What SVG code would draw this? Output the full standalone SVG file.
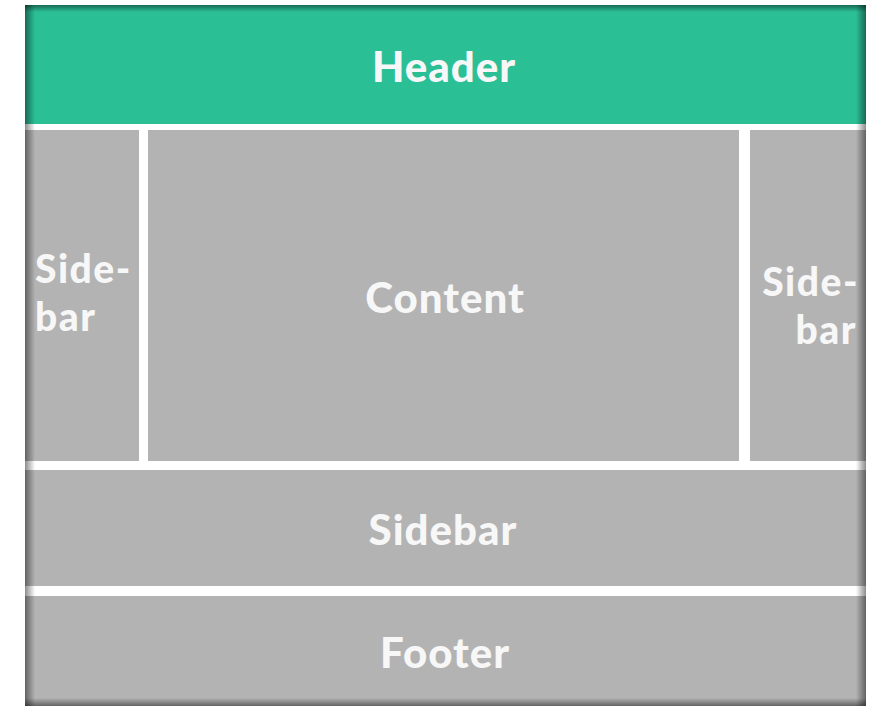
<svg xmlns="http://www.w3.org/2000/svg" width="879" height="708" viewBox="0 0 879 708">
<defs>
<style>
.box{fill:#b3b3b3}
.hdr{fill:#2bbf96}
.lbl{font-family:Lato,"Liberation Sans",sans-serif;font-weight:900;fill:#f7f7f7;letter-spacing:1px}
.sb{font-size:39px;letter-spacing:1.5px}
</style>
<linearGradient id="gl" x1="0" y1="0" x2="1" y2="0"><stop offset="0" stop-color="#000" stop-opacity="0.45"/><stop offset="1" stop-color="#000" stop-opacity="0"/></linearGradient>
<linearGradient id="gr" x1="1" y1="0" x2="0" y2="0"><stop offset="0" stop-color="#000" stop-opacity="0.45"/><stop offset="1" stop-color="#000" stop-opacity="0"/></linearGradient>
<linearGradient id="gt" x1="0" y1="0" x2="0" y2="1"><stop offset="0" stop-color="#000" stop-opacity="0.45"/><stop offset="1" stop-color="#000" stop-opacity="0"/></linearGradient>
<linearGradient id="gb" x1="0" y1="1" x2="0" y2="0"><stop offset="0" stop-color="#000" stop-opacity="0.45"/><stop offset="1" stop-color="#000" stop-opacity="0"/></linearGradient>
</defs>
<rect width="879" height="708" fill="#ffffff"/>
<rect x="25" y="5" width="841" height="701" fill="#ffffff"/>
<g id="header"><rect class="hdr" x="25" y="5" width="841" height="119"/><text class="lbl" x="444" y="82" font-size="42" text-anchor="middle">Header</text></g>
<g id="sidebar-left"><rect class="box" x="25" y="130" width="114" height="331"/><text class="lbl sb" x="35" y="283">Side-</text><text class="lbl sb" x="35" y="331">bar</text></g>
<g id="content"><rect class="box" x="148" y="130" width="591" height="331"/><text class="lbl" x="445" y="313" font-size="42" text-anchor="middle">Content</text></g>
<g id="sidebar-right"><rect class="box" x="750" y="130" width="116" height="331"/><text class="lbl sb" x="859" y="296" text-anchor="end">Side-</text><text class="lbl sb" x="857" y="344" text-anchor="end">bar</text></g>
<g id="sidebar-bottom"><rect class="box" x="25" y="470" width="841" height="116"/><text class="lbl" x="443" y="545" font-size="42" text-anchor="middle">Sidebar</text></g>
<g id="footer"><rect class="box" x="25" y="596" width="841" height="110"/><text class="lbl" x="445" y="668" font-size="42" text-anchor="middle">Footer</text></g>
<g id="vignette">
<rect x="25" y="5" width="10" height="701" fill="url(#gl)"/>
<rect x="856" y="5" width="10" height="701" fill="url(#gr)"/>
<rect x="25" y="5" width="841" height="7" fill="url(#gt)"/>
<rect x="25" y="698" width="841" height="8" fill="url(#gb)"/>
</g>
</svg>
